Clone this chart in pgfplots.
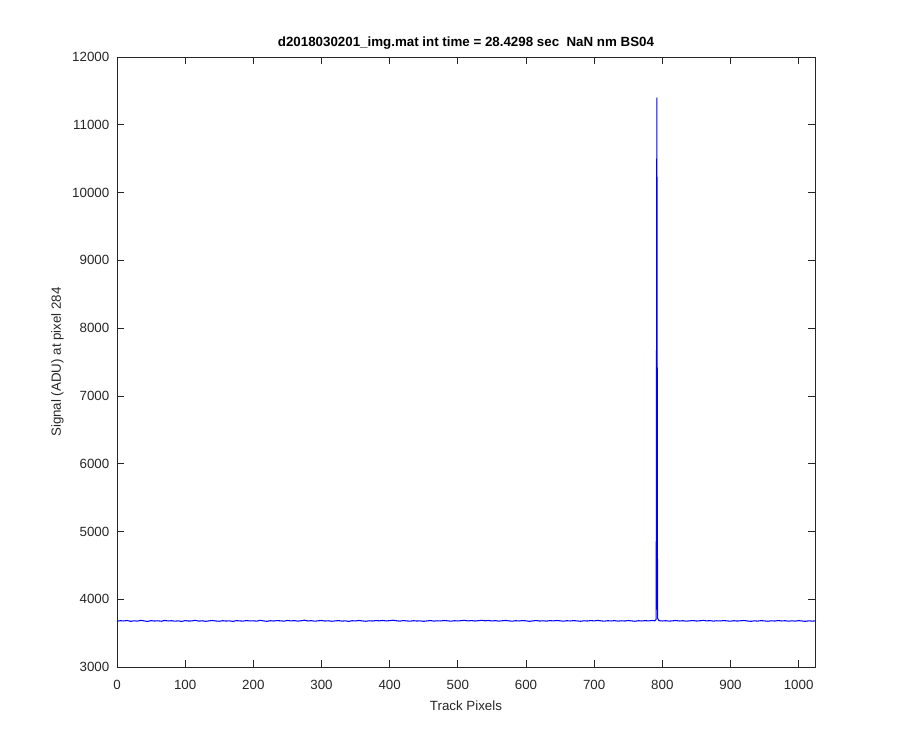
\documentclass[border=0pt]{standalone}
\usepackage{pgfplots}
\pgfplotsset{compat=1.18}
\usepackage{fontspec}
\setmainfont{Liberation Sans}
\definecolor{axgray}{rgb}{0.15,0.15,0.15}
\begin{document}
\begin{tikzpicture}
\path[use as bounding box] (-87.75pt,-62.25pt) rectangle (587.25pt,500.25pt);
\begin{axis}[
  at={(0,0)}, anchor=south west,
  scale only axis, width=523.5pt, height=457.5pt,
  xmin=0, xmax=1024, ymin=3000, ymax=12000,
  xtick={0,100,...,1000}, ytick={3000,4000,...,12000},
  tick align=inside, major tick length=5pt,
  axis line style={axgray, line width=0.5pt},
  every tick/.style={axgray, line width=0.5pt},
  tick label style={font=\fontsize{10}{12}\selectfont, text=axgray},
  xticklabel style={yshift=-6.5pt},
  yticklabel style={xshift=-2.25pt},
  /pgf/number format/assume math mode=true,
  /pgf/number format/1000 sep={},
  scaled y ticks=false,
  title={\bfseries d2018030201\_img.mat int time = 28.4298 sec\ \ NaN nm BS04},
  title style={font=\fontsize{10}{12}\selectfont, yshift=-3.8pt},
  xlabel={Track Pixels}, ylabel={Signal (ADU) at pixel 284},
  label style={font=\fontsize{10}{12}\selectfont, text=axgray},
  xlabel style={yshift=-1.5pt},
  ylabel style={yshift=-0.5pt},
  clip=true,
]
\addplot[blue, line width=0.8pt] coordinates {
(0,3676)(5,3683)(10,3679)(15,3686)(20,3674)(25,3681)(30,3677)(35,3688)(40,3680)(45,3673)
(50,3684)(55,3678)(60,3682)(65,3675)(70,3687)(75,3679)(80,3683)(85,3676)(90,3681)(95,3672)
(100,3685)(105,3678)(110,3680)(115,3689)(120,3677)(125,3682)(130,3674)(135,3680)(140,3686)(145,3679)
(150,3675)(155,3683)(160,3678)(165,3681)(170,3673)(175,3684)(180,3680)(185,3677)(190,3685)(195,3679)
(200,3682)(205,3676)(210,3688)(215,3680)(220,3674)(225,3683)(230,3678)(235,3685)(240,3681)(245,3676)
(250,3687)(255,3680)(260,3684)(265,3677)(270,3682)(275,3690)(280,3679)(285,3684)(290,3676)(295,3681)
(300,3686)(305,3678)(310,3682)(315,3675)(320,3680)(325,3684)(330,3677)(335,3681)(340,3673)(345,3683)
(350,3679)(355,3686)(360,3680)(365,3675)(370,3682)(375,3678)(380,3685)(385,3681)(390,3687)(395,3679)
(400,3684)(405,3690)(410,3682)(415,3677)(420,3685)(425,3680)(430,3676)(435,3683)(440,3678)(445,3681)
(450,3674)(455,3680)(460,3685)(465,3677)(470,3682)(475,3679)(480,3686)(485,3681)(490,3676)(495,3683)
(500,3679)(505,3684)(510,3688)(515,3680)(520,3685)(525,3678)(530,3683)(535,3689)(540,3681)(545,3686)
(550,3679)(555,3684)(560,3677)(565,3682)(570,3687)(575,3680)(580,3676)(585,3683)(590,3679)(595,3685)
(600,3681)(605,3674)(610,3680)(615,3686)(620,3678)(625,3682)(630,3677)(635,3684)(640,3680)(645,3686)
(650,3681)(655,3676)(660,3683)(665,3679)(670,3684)(675,3680)(680,3675)(685,3682)(690,3678)(695,3685)
(700,3680)(705,3687)(710,3681)(715,3676)(720,3683)(725,3679)(730,3684)(735,3677)(740,3682)(745,3678)
(750,3686)(755,3680)(760,3675)(765,3683)(770,3679)(775,3684)(780,3680)(785,3686)(789,3682)(791,3700)
(792,11400)(793,3720)(795,3684)
(800,3679)(805,3683)(810,3677)(815,3681)(820,3686)(825,3679)(830,3683)(835,3676)(840,3681)(845,3685)
(850,3678)(855,3682)(860,3688)(865,3680)(870,3684)(875,3677)(880,3682)(885,3679)(890,3685)(895,3680)
(900,3676)(905,3683)(910,3678)(915,3682)(920,3686)(925,3679)(930,3674)(935,3681)(940,3677)(945,3684)
(950,3680)(955,3675)(960,3682)(965,3678)(970,3685)(975,3679)(980,3683)(985,3676)(990,3681)(995,3677)
(1000,3684)(1005,3679)(1010,3674)(1015,3681)(1020,3677)(1024,3680)
};
\end{axis}
\end{tikzpicture}
\end{document}
